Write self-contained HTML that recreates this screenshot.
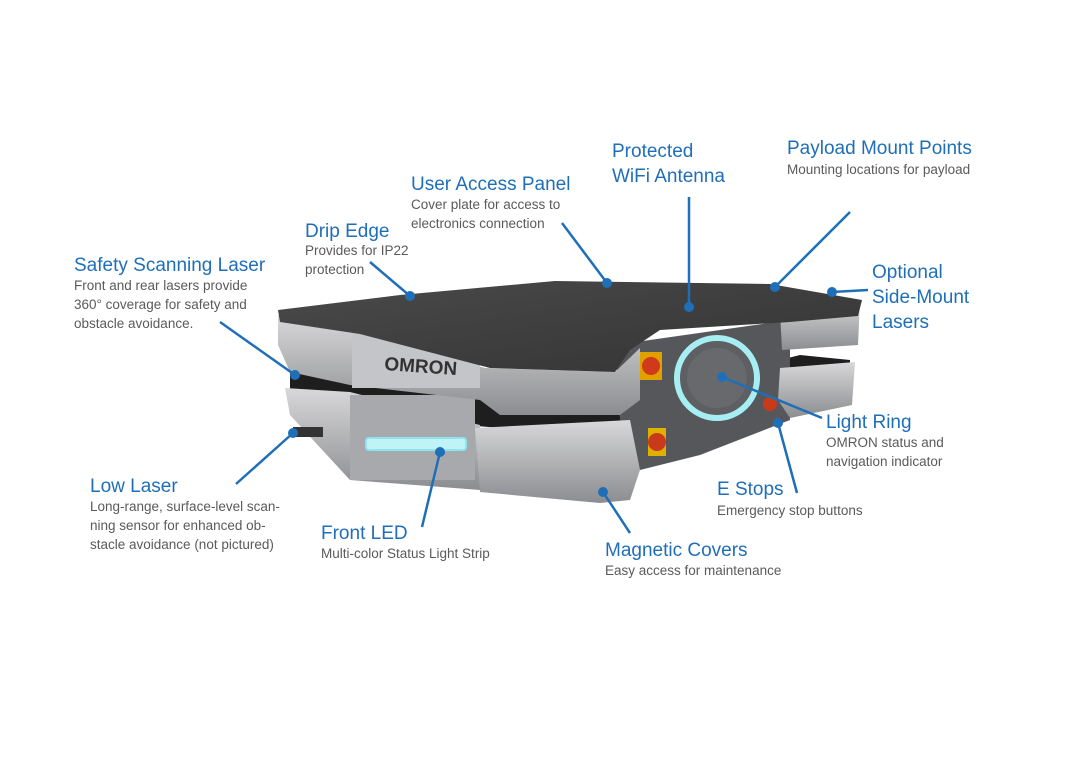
<!DOCTYPE html>
<html><head><meta charset="utf-8"><style>
html,body{margin:0;padding:0;background:#fff;}
body{width:1072px;height:761px;overflow:hidden;position:relative;font-family:"Liberation Sans",sans-serif;}
.t{position:absolute;color:#1f6fb8;font-size:19px;line-height:25px;white-space:nowrap;}
.d{position:absolute;color:#5a5a5a;font-size:13.5px;line-height:19px;white-space:nowrap;}
svg{position:absolute;left:0;top:0;}
</style></head><body>
<svg width="1072" height="761" viewBox="0 0 1072 761">
<defs>
<linearGradient id="sil" x1="0" y1="0" x2="0" y2="1"><stop offset="0" stop-color="#d8d8da"/><stop offset="1" stop-color="#8c8d90"/></linearGradient>
<linearGradient id="top" x1="0" y1="0" x2="1" y2="1"><stop offset="0" stop-color="#4a4a4a"/><stop offset="1" stop-color="#333"/></linearGradient>
</defs>
<!-- lower dark gap -->
<polygon points="290,372 640,395 800,355 850,360 850,400 640,440 290,410" fill="#1e1e1e"/>
<!-- right dark face -->
<polygon points="615,345 790,320 790,420 700,455 640,470 620,420" fill="#56575a"/>
<!-- right wings -->
<polygon points="780,312 860,300 858,345 782,350" fill="url(#sil)"/>
<polygon points="780,368 855,362 852,405 790,418 778,400" fill="url(#sil)"/>
<!-- lower silver band -->
<polygon points="285,388 350,392 480,425 480,490 350,480 290,415" fill="url(#sil)"/>
<polygon points="475,428 630,420 640,470 630,500 600,503 480,492" fill="url(#sil)"/>
<rect x="350" y="395" width="125" height="85" fill="#a8a9ad"/>
<rect x="366" y="438" width="100" height="12" rx="3" fill="#bff3f6" stroke="#8de6ee" stroke-width="2"/>
<!-- upper silver band -->
<polygon points="278,315 355,332 485,368 615,372 640,348 640,400 620,415 500,415 480,400 350,385 290,372 278,345" fill="url(#sil)"/>
<rect x="352" y="333" width="128" height="55" fill="#c4c5c8"/>
<text x="384" y="370" font-family="Liberation Sans,sans-serif" font-weight="bold" font-size="19" fill="#333" transform="rotate(4 384 370)">OMRON</text>
<!-- top plate -->
<polygon points="278,310 400,295 555,281 770,284 862,300 858,316 790,322 660,330 630,350 615,372 490,368 360,334 280,322" fill="url(#top)"/>
<!-- light ring -->
<circle cx="717" cy="378" r="40" fill="#5e5f62" stroke="#a6eef4" stroke-width="6"/>
<circle cx="717" cy="378" r="30" fill="#68696c"/>
<!-- e-stops -->
<rect x="640" y="352" width="22" height="28" fill="#e0a000"/><circle cx="651" cy="366" r="9" fill="#d03a1a"/>
<rect x="648" y="428" width="18" height="28" fill="#e0b000"/><circle cx="657" cy="442" r="9" fill="#c83a1a"/>
<circle cx="770" cy="404" r="7" fill="#c83a1a"/>
<rect x="293" y="427" width="30" height="10" fill="#333"/>
<g stroke="#1f6fb8" stroke-width="2.5" fill="none">
<line x1="220" y1="322" x2="295" y2="375"/>
<line x1="370" y1="262" x2="410" y2="296"/>
<line x1="562" y1="223" x2="607" y2="283"/>
<line x1="689" y1="197" x2="689" y2="307"/>
<line x1="850" y1="212" x2="775" y2="287"/>
<line x1="868" y1="290" x2="832" y2="292"/>
<line x1="822" y1="418" x2="722" y2="377"/>
<line x1="797" y1="493" x2="778" y2="423"/>
<line x1="630" y1="533" x2="603" y2="492"/>
<line x1="422" y1="527" x2="440" y2="452"/>
<line x1="236" y1="484" x2="293" y2="433"/>
</g>
<g fill="#1f6fb8">
<circle cx="295" cy="375" r="5"/><circle cx="410" cy="296" r="5"/><circle cx="607" cy="283" r="5"/>
<circle cx="689" cy="307" r="5"/><circle cx="775" cy="287" r="5"/><circle cx="832" cy="292" r="5"/>
<circle cx="722" cy="377" r="5"/><circle cx="778" cy="423" r="5"/><circle cx="603" cy="492" r="5"/>
<circle cx="440" cy="452" r="5"/><circle cx="293" cy="433" r="5"/>
</g>
</svg>
<div class="t" style="left:74px;top:253px">Safety Scanning Laser</div>
<div class="d" style="left:74px;top:276px">Front and rear lasers provide<br>360° coverage for safety and<br>obstacle avoidance.</div>
<div class="t" style="left:305px;top:219px">Drip Edge</div>
<div class="d" style="left:305px;top:241px">Provides for IP22<br>protection</div>
<div class="t" style="left:411px;top:172px">User Access Panel</div>
<div class="d" style="left:411px;top:195px">Cover plate for access to<br>electronics connection</div>
<div class="t" style="left:612px;top:139px">Protected<br>WiFi Antenna</div>
<div class="t" style="left:787px;top:136px">Payload Mount Points</div>
<div class="d" style="left:787px;top:160px">Mounting locations for payload</div>
<div class="t" style="left:872px;top:260px">Optional<br>Side-Mount<br>Lasers</div>
<div class="t" style="left:826px;top:410px">Light Ring</div>
<div class="d" style="left:826px;top:433px">OMRON status and<br>navigation indicator</div>
<div class="t" style="left:717px;top:477px">E Stops</div>
<div class="d" style="left:717px;top:501px">Emergency stop buttons</div>
<div class="t" style="left:605px;top:538px">Magnetic Covers</div>
<div class="d" style="left:605px;top:561px">Easy access for maintenance</div>
<div class="t" style="left:321px;top:521px">Front LED</div>
<div class="d" style="left:321px;top:544px">Multi-color Status Light Strip</div>
<div class="t" style="left:90px;top:474px">Low Laser</div>
<div class="d" style="left:90px;top:497px">Long-range, surface-level scan-<br>ning sensor for enhanced ob-<br>stacle avoidance (not pictured)</div>
</body></html>
